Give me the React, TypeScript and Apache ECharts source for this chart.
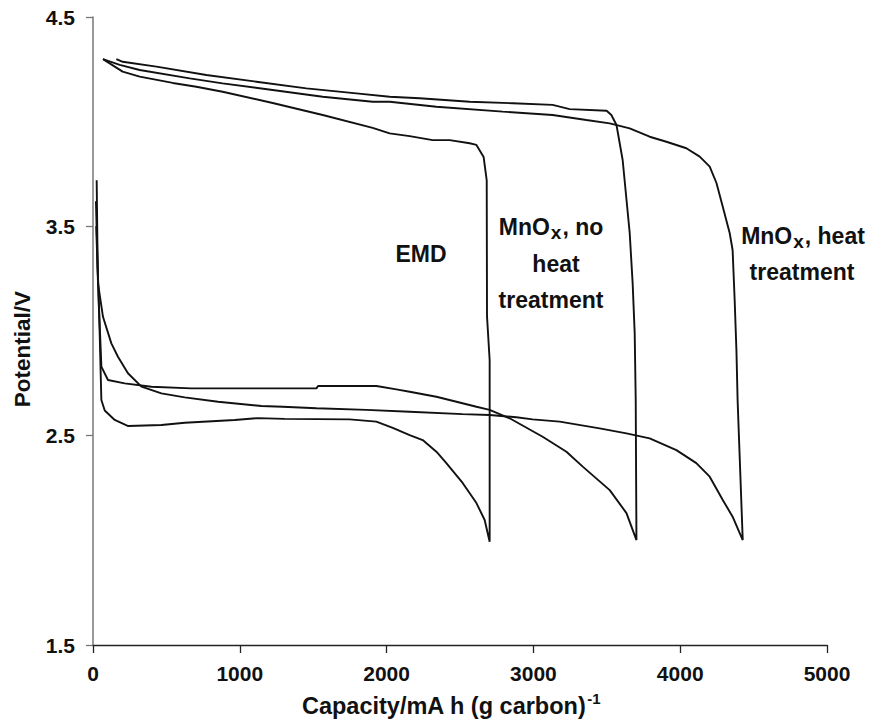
import React, { useEffect, useRef } from "react";
import * as echarts from "echarts";

const FONT = "'Liberation Sans', Arial, Helvetica, sans-serif";

// EMD: discharge then charge (capacity mA h (g carbon)^-1, potential V)
const emdCapacity = [
  25, 32, 45, 57, 80, 148, 240, 466, 625, 965, 1122, 1306, 1748, 1930, 2042, 2157, 2246, 2341, 2407, 2518, 2612, 2668, 2702,
  2702, 2684, 2682, 2661, 2612, 2566, 2430, 2314, 2157, 2021, 1905, 1565, 1224, 883, 704, 543, 318, 202, 68,
];
const emdPotential = [
  3.72, 3.3, 3.0, 2.67, 2.62, 2.575, 2.546, 2.551, 2.562, 2.575, 2.584, 2.58, 2.578, 2.567, 2.537, 2.503, 2.479, 2.422, 2.369, 2.274, 2.178, 2.097, 1.993,
  2.86, 3.07, 3.72, 3.831, 3.889, 3.897, 3.912, 3.912, 3.931, 3.944, 3.97, 4.032, 4.089, 4.143, 4.167, 4.185, 4.215, 4.239, 4.299,
];

// MnOx, no heat treatment
const noHeatCapacity = [
  20, 30, 39, 57, 102, 216, 398, 670, 1522, 1533, 1931, 2067, 2157, 2339, 2476, 2612, 2702, 2838, 3063, 3225, 3336, 3520, 3634, 3702,
  3697, 3690, 3676, 3656, 3608, 3566, 3531, 3499, 3247, 3131, 2859, 2566, 2225, 2021, 1794, 1454, 1113, 772, 432, 202, 159,
];
const noHeatPotential = [
  3.62, 3.35, 3.148, 2.83, 2.766, 2.75, 2.734, 2.726, 2.726, 2.737, 2.737, 2.721, 2.71, 2.686, 2.662, 2.638, 2.623, 2.583, 2.495, 2.423, 2.352, 2.24, 2.13, 2.001,
  2.67, 2.99, 3.229, 3.468, 3.817, 3.984, 4.032, 4.052, 4.06, 4.08, 4.088, 4.095, 4.112, 4.119, 4.135, 4.159, 4.191, 4.223, 4.263, 4.286, 4.299,
];

// MnOx, heat treatment
const heatCapacity = [
  22, 34, 68, 125, 170, 238, 330, 466, 625, 852, 1147, 1292, 1522, 1862, 2157, 2518, 2702, 2884, 2995, 3179, 3451, 3634, 3792, 3974, 4110, 4201, 4290, 4357, 4426,
  4391, 4383, 4371, 4357, 4337, 4290, 4247, 4201, 4133, 4042, 3906, 3792, 3656, 3520, 3361, 3131, 2791, 2339, 2021, 1905, 1565, 1224, 883, 659, 318, 182, 68,
];
const heatPotential = [
  3.5, 3.228, 3.068, 2.941, 2.877, 2.798, 2.734, 2.702, 2.683, 2.662, 2.642, 2.638, 2.631, 2.623, 2.614, 2.603, 2.599, 2.588, 2.578, 2.567, 2.535, 2.511, 2.487, 2.431, 2.369, 2.304, 2.193, 2.113, 2.001,
  2.67, 2.909, 3.148, 3.387, 3.468, 3.594, 3.707, 3.785, 3.833, 3.873, 3.904, 3.928, 3.968, 3.992, 4.008, 4.032, 4.048, 4.071, 4.095, 4.095, 4.119, 4.151, 4.183, 4.207, 4.247, 4.271, 4.299,
];

const xTicks = { min: 0, max: 5000, interval: 1000 };
const yTicks = { min: 1.5, max: 4.5, interval: 1 };

const zip = (xs: number[], ys: number[]) => xs.map((x, i) => [x, ys[i]]);

export default function App() {
  const ref = useRef<HTMLDivElement>(null);
  useEffect(() => {
    if (!ref.current) return;
    const chart = echarts.init(ref.current, null, { renderer: "svg" });
    const lineSeries = (name: string, data: number[][]) => ({
      name,
      type: "line",
      data,
      showSymbol: false,
      symbol: "none",
      lineStyle: { color: "#111", width: 1.9 },
      silent: true,
    });
    const bold = { fontFamily: FONT, fontWeight: "bold", fill: "#111" };
    const label = (x: number, y: number, text: string, rich?: any) => ({
      type: "text",
      x,
      y,
      style: {
        text,
        ...bold,
        fontSize: 23,
        textAlign: "center",
        textVerticalAlign: "middle",
        rich,
      },
    });
    const subRich = {
      n: { fontFamily: FONT, fontWeight: "bold", fontSize: 23, fill: "#111", lineHeight: 28 },
      s: { fontFamily: FONT, fontWeight: "bold", fontSize: 19, fill: "#111", lineHeight: 28, padding: [11, 1, 0, 1] },
    };
    chart.setOption({
      animation: false,
      backgroundColor: "#fff",
      grid: { left: 93, right: 46, top: 17, bottom: 78, containLabel: false },
      xAxis: {
        type: "value",
        ...xTicks,
        axisLine: { show: true, onZero: false, lineStyle: { color: "#222", width: 1.3 } },
        axisTick: { show: true, length: 8, lineStyle: { color: "#222", width: 1.3 } },
        axisLabel: {
          fontFamily: FONT,
          fontWeight: "bold",
          fontSize: 21,
          color: "#111",
          margin: 18,
          formatter: (v: number) => String(v),
        },
        splitLine: { show: false },
      },
      yAxis: {
        type: "value",
        ...yTicks,
        axisLine: { show: true, onZero: false, lineStyle: { color: "#777", width: 1.5 } },
        axisTick: { show: true, length: 7, lineStyle: { color: "#777", width: 1.3 } },
        axisLabel: {
          fontFamily: FONT,
          fontWeight: "bold",
          fontSize: 21,
          color: "#111",
          margin: 18,
          formatter: (v: number) => v.toFixed(1),
        },
        splitLine: { show: false },
      },
      series: [
        lineSeries("EMD", zip(emdCapacity, emdPotential)),
        lineSeries("MnOx, no heat treatment", zip(noHeatCapacity, noHeatPotential)),
        lineSeries("MnOx, heat treatment", zip(heatCapacity, heatPotential)),
      ],
      graphic: [
        {
          type: "text",
          x: 22,
          y: 349,
          rotation: Math.PI / 2,
          style: {
            text: "Potential/V",
            ...bold,
            fontSize: 22.5,
            textAlign: "center",
            textVerticalAlign: "middle",
          },
        },
        {
          type: "text",
          x: 451,
          y: 706,
          style: {
            text: "{t|Capacity/mA h (g carbon)}{u|-1}",
            textAlign: "center",
            textVerticalAlign: "middle",
            rich: {
              t: { fontFamily: FONT, fontWeight: "bold", fontSize: 23.5, fill: "#111", lineHeight: 28 },
              u: { fontFamily: FONT, fontWeight: "bold", fontSize: 15, fill: "#111", lineHeight: 28, padding: [0, 0, 16, 1] },
            },
          },
        },
        label(421, 254, "EMD"),
        label(551, 227, "{n|MnO}{s|x}{n|, no}", subRich),
        label(556, 264, "heat"),
        label(551, 300, "treatment"),
        label(803, 236, "{n|MnO}{s|x}{n|, heat}", subRich),
        label(802, 272, "treatment"),
      ],
    });
    return () => chart.dispose();
  }, []);
  return (
    <div
      ref={ref}
      style={{ position: "fixed", left: 0, top: 0, width: 873, height: 723, background: "#fff" }}
    />
  );
}
